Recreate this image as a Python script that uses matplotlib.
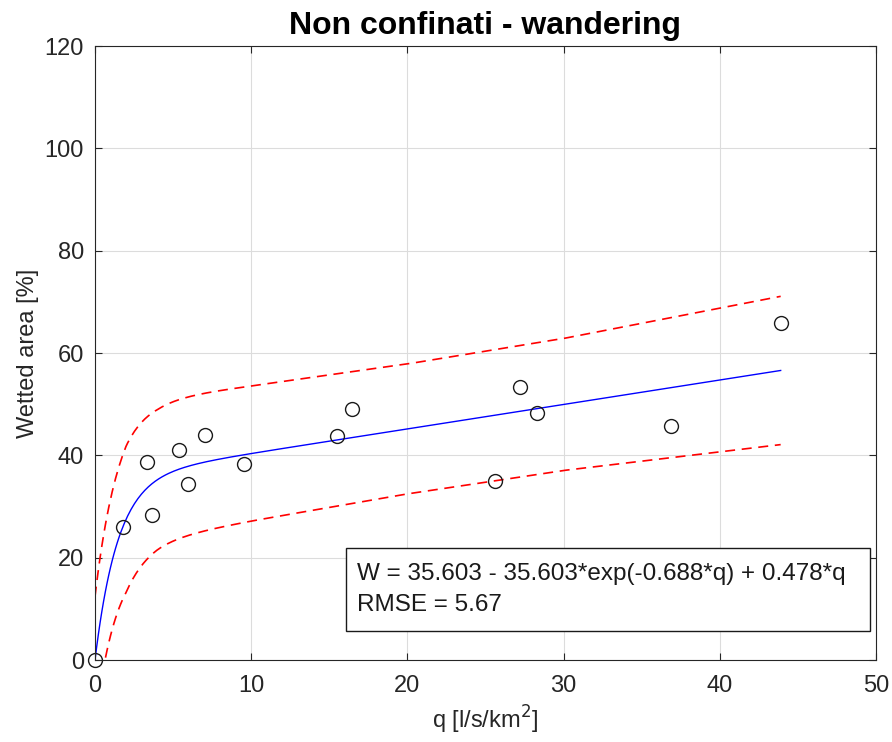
import numpy as np
import matplotlib
matplotlib.use("Agg")
from matplotlib import pyplot as plt
from matplotlib.patches import Rectangle

plt.rcParams['font.family'] = ['Liberation Sans', 'DejaVu Sans']

# Observed data (q [l/s/km2], wetted area [%])
q_obs = [0.0, 1.8, 3.3, 3.65, 5.4, 5.95, 7.05, 9.55, 15.5, 16.45, 27.2, 28.3, 25.6, 36.9, 43.9]
w_obs = [0.0, 26.0, 38.7, 28.3, 41.0, 34.4, 44.0, 38.3, 43.8, 49.1, 53.4, 48.3, 35.0, 45.8, 65.9]

# Fit parameters shown in the chart
a = 35.603
k = 0.688
b = 0.478
rmse = 5.67

# Prediction bound half-widths
q_hw = [0, 2, 4, 10, 20, 30, 44]
hw = [12.4, 14.3, 13.7, 13.2, 12.7, 12.9, 14.5]

q = np.linspace(0, max(q_obs), 400)
w_fit = a - a*np.exp(-k*q) + b*q
half = np.interp(q, q_hw, hw)

fig = plt.figure(figsize=(8.92, 7.42), dpi=100)
ax = fig.add_axes([0.1065, 0.1105, 0.8755, 0.8275])

ax.plot(q, w_fit, color='#0000ff', lw=1.0)
ax.plot(q, w_fit + half, color='#ff0000', lw=1.2, ls=(0, (6, 4)))
ax.plot(q, w_fit - half, color='#ff0000', lw=1.2, ls=(0, (6, 4)))
ax.plot(q_obs, w_obs, 'o', mfc='none', mec='#1a1a1a', ms=10, mew=1.0, clip_on=False)

ax.set_xlim(0, 50)
ax.set_ylim(0, 120)
ax.set_xticks(np.arange(0, 51, 10))
ax.set_yticks(np.arange(0, 121, 20))
ax.grid(True, color='#dcdcdc', lw=0.8)
ax.set_axisbelow(True)
for s in ax.spines.values():
    s.set_color('#262626')
    s.set_linewidth(0.8)
ax.tick_params(direction='in', top=True, right=True, length=5, width=0.8,
               colors='#262626', labelsize=17)
ax.tick_params(axis='x', pad=11)
ax.tick_params(axis='y', pad=8)

ax.set_title('Non confinati - wandering', fontsize=23, fontweight='bold', pad=9)
ax.set_xlabel('q [l/s/km$^2$]', fontsize=17, color='#262626', labelpad=5)
ax.set_ylabel('Wetted area [%]', fontsize=17, color='#262626', labelpad=4)

# annotation box
ax.add_patch(Rectangle((0.321, 0.047), 0.671, 0.135, transform=ax.transAxes,
                       fc='white', ec='#1a1a1a', lw=1.0, zorder=5))
ax.text(0.336, 0.1145, 'W = %.3f - %.3f*exp(-%.3f*q) + %.3f*q\nRMSE = %.2f' % (a, a, k, b, rmse),
        transform=ax.transAxes, fontsize=17.5, va='center', ha='left', linespacing=1.5,
        color='#1a1a1a', zorder=6)

fig.savefig('out.png', dpi=100)
